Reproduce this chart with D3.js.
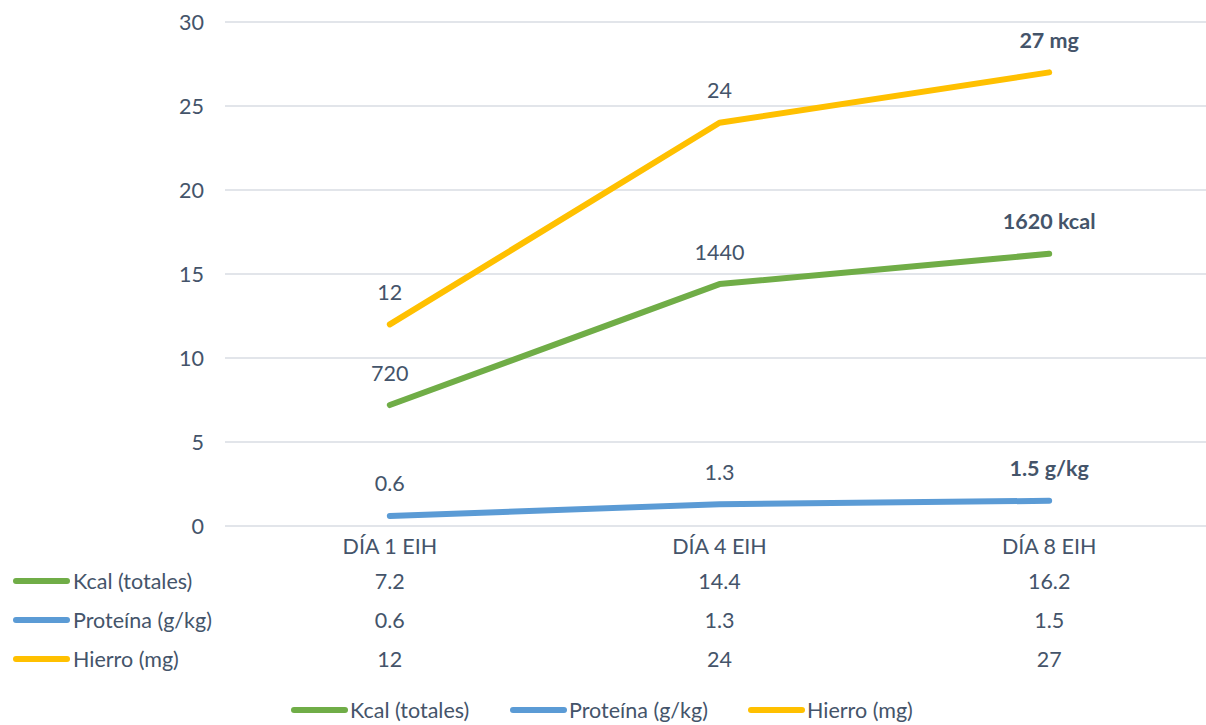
<!DOCTYPE html>
<html>
<head>
<meta charset="utf-8">
<script src="https://cdn.jsdelivr.net/npm/d3@7"></script>
<style>
  html, body { margin: 0; padding: 0; background: #ffffff; }
  svg text { font-family: Lato, "Noto Sans", sans-serif; fill: #44546A; }
</style>
</head>
<body>
<svg id="chart" width="1206" height="725"></svg>
<script>
// Categories (days of intake)
const days = ["DÍA 1 EIH", "DÍA 4 EIH", "DÍA 8 EIH"];

// Series values (kcal expressed in hundreds of kcal)
const kcal = [7.2, 14.4, 16.2];
const proteina = [0.6, 1.3, 1.5];
const hierro = [12, 24, 27];

// Y axis ticks
const yTicks = [0, 5, 10, 15, 20, 25, 30];

// Series meta
const seriesNames = ["Kcal (totales)", "Proteína (g/kg)", "Hierro (mg)"];
const seriesColors = ["#70AD47", "#5B9BD5", "#FFC000"];
const seriesValues = [kcal, proteina, hierro];

// Point labels above each line; the last label carries the unit in bold
const pointLabels = [
  kcal.map((v, i) => String(Math.round(v * 100)) + (i === kcal.length - 1 ? " kcal" : "")),
  proteina.map((v, i) => String(v) + (i === proteina.length - 1 ? " g/kg" : "")),
  hierro.map((v, i) => String(v) + (i === hierro.length - 1 ? " mg" : ""))
];

const svg = d3.select("#chart");
const fontSize = 21.5;

const x = d3.scaleBand().domain(days).range([225, 1214]);
const y = d3.scaleLinear().domain([0, 30]).range([526, 22]);
const cx = d => x(d) + x.bandwidth() / 2;

// Gridlines
svg.append("g")
  .selectAll("line")
  .data(yTicks)
  .join("line")
  .attr("x1", 225).attr("x2", 1214)
  .attr("y1", d => y(d)).attr("y2", d => y(d))
  .attr("stroke", "#D9DDE3")
  .attr("stroke-width", 1.3);

// Y tick labels
svg.append("g")
  .selectAll("text")
  .data(yTicks)
  .join("text")
  .attr("x", 204)
  .attr("y", d => y(d))
  .attr("dy", "0.35em")
  .attr("text-anchor", "end")
  .attr("font-size", fontSize)
  .text(d => d);

// Lines
const line = d3.line()
  .x((d, i) => cx(days[i]))
  .y(d => y(d));

svg.append("g")
  .selectAll("path")
  .data(seriesValues)
  .join("path")
  .attr("d", d => line(d))
  .attr("fill", "none")
  .attr("stroke", (d, i) => seriesColors[i])
  .attr("stroke-width", 6)
  .attr("stroke-linecap", "round")
  .attr("stroke-linejoin", "round");

// Point labels
seriesValues.forEach((vals, s) => {
  svg.append("g")
    .selectAll("text")
    .data(vals)
    .join("text")
    .attr("x", (d, i) => cx(days[i]))
    .attr("y", d => y(d) - 32)
    .attr("dy", "0.35em")
    .attr("text-anchor", "middle")
    .attr("font-size", fontSize)
    .attr("font-weight", (d, i) => i === vals.length - 1 ? "bold" : "normal")
    .text((d, i) => pointLabels[s][i]);
});

// Category labels
svg.append("g")
  .selectAll("text")
  .data(days)
  .join("text")
  .attr("x", d => cx(d))
  .attr("y", 546)
  .attr("dy", "0.35em")
  .attr("text-anchor", "middle")
  .attr("font-size", fontSize)
  .text(d => d);

// Data table below the axis
const rowY = [581, 620, 659];
seriesValues.forEach((vals, s) => {
  const row = svg.append("g");
  row.append("line")
    .attr("x1", 16).attr("x2", 67)
    .attr("y1", rowY[s]).attr("y2", rowY[s])
    .attr("stroke", seriesColors[s])
    .attr("stroke-width", 6)
    .attr("stroke-linecap", "round");
  row.append("text")
    .attr("x", 73)
    .attr("y", rowY[s])
    .attr("dy", "0.35em")
    .attr("font-size", fontSize)
    .text(seriesNames[s]);
  row.selectAll("text.val")
    .data(vals)
    .join("text")
    .attr("class", "val")
    .attr("x", (d, i) => cx(days[i]))
    .attr("y", rowY[s])
    .attr("dy", "0.35em")
    .attr("text-anchor", "middle")
    .attr("font-size", fontSize)
    .text(d => d);
});

// Legend
const legendX = [294, 513, 751];
const legendY = 710;
const legend = svg.append("g");
seriesNames.forEach((name, s) => {
  legend.append("line")
    .attr("x1", legendX[s]).attr("x2", legendX[s] + 51)
    .attr("y1", legendY).attr("y2", legendY)
    .attr("stroke", seriesColors[s])
    .attr("stroke-width", 6)
    .attr("stroke-linecap", "round");
  legend.append("text")
    .attr("x", legendX[s] + 56)
    .attr("y", legendY)
    .attr("dy", "0.35em")
    .attr("font-size", fontSize)
    .text(name);
});
</script>
</body>
</html>
